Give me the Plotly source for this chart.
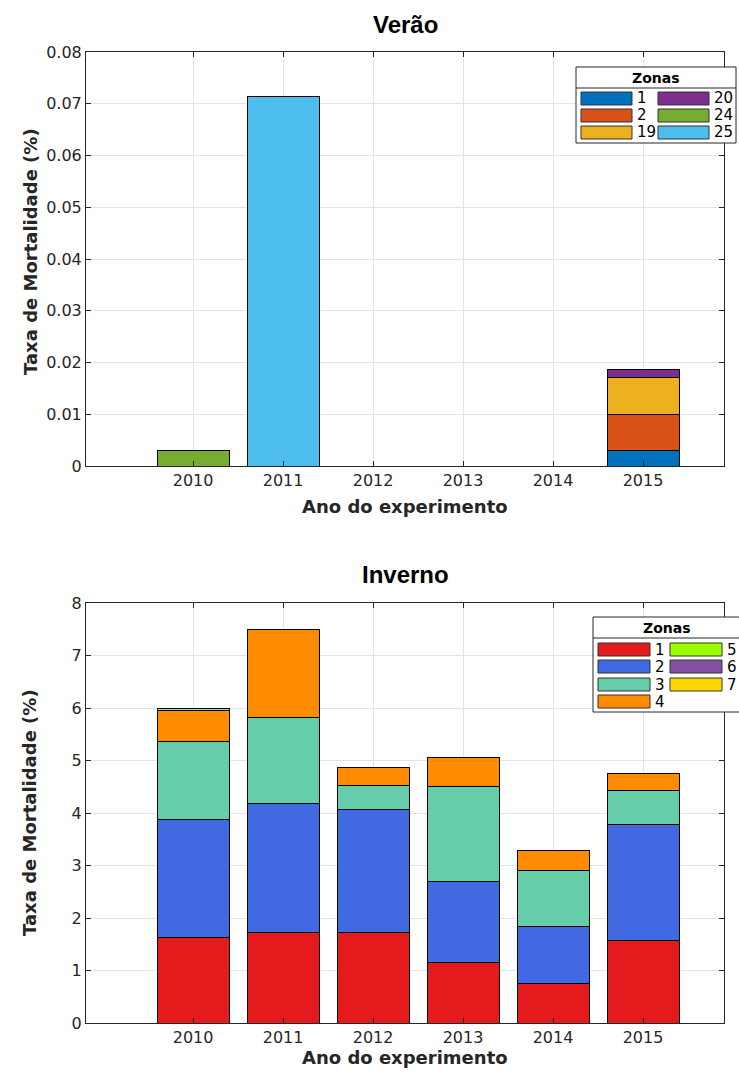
import plotly.graph_objects as go

# ---------------- data ----------------
years = [2010, 2011, 2012, 2013, 2014, 2015]
year_labels = ["2010", "2011", "2012", "2013", "2014", "2015"]

# Verão (summer) zones
summer_zones = ["1", "2", "19", "20", "24", "25"]
summer_colors = ["#0072BD", "#D95319", "#EDB120", "#7E2F8E", "#77AC30", "#4DBEEE"]
summer_z1 = [0, 0, 0, 0, 0, 0.0030]
summer_z2 = [0, 0, 0, 0, 0, 0.0070]
summer_z19 = [0, 0, 0, 0, 0, 0.0071]
summer_z20 = [0, 0, 0, 0, 0, 0.0015]
summer_z24 = [0.0029, 0, 0, 0, 0, 0]
summer_z25 = [0, 0.0714, 0, 0, 0, 0]
summer_values = [summer_z1, summer_z2, summer_z19, summer_z20, summer_z24, summer_z25]

# Inverno (winter) zones
winter_zones = ["1", "2", "3", "4", "5", "6", "7"]
winter_colors = ["#E41A1C", "#4169E1", "#66CDAA", "#FF8C00", "#9AFF00", "#8252A0", "#FFD700"]
winter_z1 = [1.62, 1.73, 1.72, 1.16, 0.76, 1.57]
winter_z2 = [2.26, 2.46, 2.34, 1.54, 1.07, 2.21]
winter_z3 = [1.49, 1.62, 0.46, 1.81, 1.08, 0.65]
winter_z4 = [0.58, 1.69, 0.34, 0.54, 0.37, 0.33]
winter_z5 = [0.04, 0, 0, 0, 0, 0]
winter_z6 = [0, 0, 0, 0, 0, 0]
winter_z7 = [0, 0, 0, 0, 0, 0]
winter_values = [winter_z1, winter_z2, winter_z3, winter_z4, winter_z5, winter_z6, winter_z7]

summer_yticks = [0, 0.01, 0.02, 0.03, 0.04, 0.05, 0.06, 0.07, 0.08]
summer_ytick_labels = ["0", "0.01", "0.02", "0.03", "0.04", "0.05", "0.06", "0.07", "0.08"]
winter_yticks = [0, 1, 2, 3, 4, 5, 6, 7, 8]

# ---------------- layout geometry (pixels) ----------------
W, H = 739, 1077
ML, MR, MT, MB = 86, 15, 52, 54
PW = W - ML - MR
PH = H - MT - MB


def xp(px):
    return (px - ML) / PW


def yp(py):
    return (H - MB - py) / PH


top_dom = [yp(466), 1.0]
bot_dom = [0.0, yp(603)]

AX = "#262626"
GRID = "#e3e3e3"
TICKFONT = dict(family="DejaVu Sans", size=16, color=AX)

fig = go.Figure()

for name, color, vals in zip(summer_zones, summer_colors, summer_values):
    fig.add_trace(go.Bar(x=years, y=vals, name=name, width=0.8,
                         marker=dict(color=color, line=dict(color="#000000", width=1)),
                         xaxis="x", yaxis="y", showlegend=False))

for name, color, vals in zip(winter_zones, winter_colors, winter_values):
    fig.add_trace(go.Bar(x=years, y=vals, name=name, width=0.8,
                         marker=dict(color=color, line=dict(color="#000000", width=1)),
                         xaxis="x2", yaxis="y2", showlegend=False))

xcommon = dict(range=[2008.81, 2015.9], tickvals=years, ticktext=year_labels,
               showgrid=True, gridcolor=GRID, zeroline=False,
               showline=True, linecolor=AX, linewidth=1, mirror="ticks",
               ticks="inside", ticklen=5, tickcolor=AX, tickfont=TICKFONT)
ycommon = dict(showgrid=True, gridcolor=GRID, zeroline=False,
               showline=True, linecolor=AX, linewidth=1, mirror="ticks",
               ticks="inside", ticklen=5, tickcolor=AX, tickfont=TICKFONT)

fig.update_layout(
    width=W, height=H,
    margin=dict(l=ML, r=MR, t=MT, b=MB),
    paper_bgcolor="white", plot_bgcolor="white",
    barmode="stack", bargap=0.2,
    xaxis=dict(domain=[0, 1], anchor="y", **xcommon),
    yaxis=dict(domain=top_dom, anchor="x", range=[0, 0.08], tickvals=summer_yticks,
               ticktext=summer_ytick_labels, **ycommon),
    xaxis2=dict(domain=[0, 1], anchor="y2", **xcommon),
    yaxis2=dict(domain=bot_dom, anchor="x2", range=[0, 8], tickvals=winter_yticks, **ycommon),
    showlegend=False,
)

annotations = []
shapes = []

# titles
annotations.append(dict(text="<b>Verão</b>", x=xp(405), y=yp(24), xref="paper", yref="paper",
                        showarrow=False, xanchor="center", yanchor="middle",
                        font=dict(family="Liberation Sans", size=24, color="#000000")))
annotations.append(dict(text="<b>Inverno</b>", x=xp(405), y=yp(575), xref="paper", yref="paper",
                        showarrow=False, xanchor="center", yanchor="middle",
                        font=dict(family="Liberation Sans", size=24, color="#000000")))

LABFONT = dict(family="DejaVu Sans", size=18, color=AX)
for ycen, xlab_y in [(252, 506), (813, 1057)]:
    annotations.append(dict(text="<b>Taxa de Mortalidade (%)</b>", x=xp(30), y=yp(ycen),
                            xref="paper", yref="paper", showarrow=False, textangle=-90,
                            xanchor="center", yanchor="middle", font=LABFONT))
    annotations.append(dict(text="<b>Ano do experimento</b>", x=xp(405), y=yp(xlab_y),
                            xref="paper", yref="paper", showarrow=False,
                            xanchor="center", yanchor="middle", font=LABFONT))


def add_legend(names, colors, box, title_x, title_y, sep_y, row_ys, col_x, nrows):
    x0, y0, x1, y1 = box
    shapes.append(dict(type="rect", xref="paper", yref="paper",
                       x0=xp(x0), x1=xp(x1), y0=yp(y1), y1=yp(y0),
                       fillcolor="white", line=dict(color=AX, width=1), layer="above"))
    shapes.append(dict(type="line", xref="paper", yref="paper",
                       x0=xp(x0), x1=xp(x1), y0=yp(sep_y), y1=yp(sep_y),
                       line=dict(color=AX, width=1), layer="above"))
    annotations.append(dict(text="<b>Zonas</b>", x=xp(title_x),
                            y=yp(title_y), xref="paper", yref="paper", showarrow=False,
                            xanchor="center", yanchor="middle",
                            font=dict(family="DejaVu Sans", size=14, color="#000000")))
    for i, (nm, c) in enumerate(zip(names, colors)):
        col = i // nrows
        row = i % nrows
        sx0, sx1 = col_x[col]
        ry = row_ys[row]
        shapes.append(dict(type="rect", xref="paper", yref="paper",
                           x0=xp(sx0), x1=xp(sx1), y0=yp(ry + 6.5), y1=yp(ry - 6.5),
                           fillcolor=c, line=dict(color="#333333", width=1), layer="above"))
        annotations.append(dict(text=nm, x=xp(sx1 + 3), y=yp(ry), xref="paper", yref="paper",
                                showarrow=False, xanchor="left", yanchor="middle",
                                font=dict(family="DejaVu Sans", size=15, color="#000000")))


add_legend(summer_zones, summer_colors, (576, 67, 736, 143), 656, 78, 88,
           [98.5, 115.5, 132.5], [(581, 632), (658, 709)], 3)
add_legend(winter_zones, winter_colors, (593, 617, 753, 712), 667, 628, 638,
           [649.5, 666.5, 684.5, 701.5], [(598, 650), (670, 722)], 4)

fig.update_layout(annotations=annotations, shapes=shapes)

fig.write_html("out.html", config={"displayModeBar": False},
               post_script="document.body.style.margin='0px';document.body.style.overflow='hidden';")
